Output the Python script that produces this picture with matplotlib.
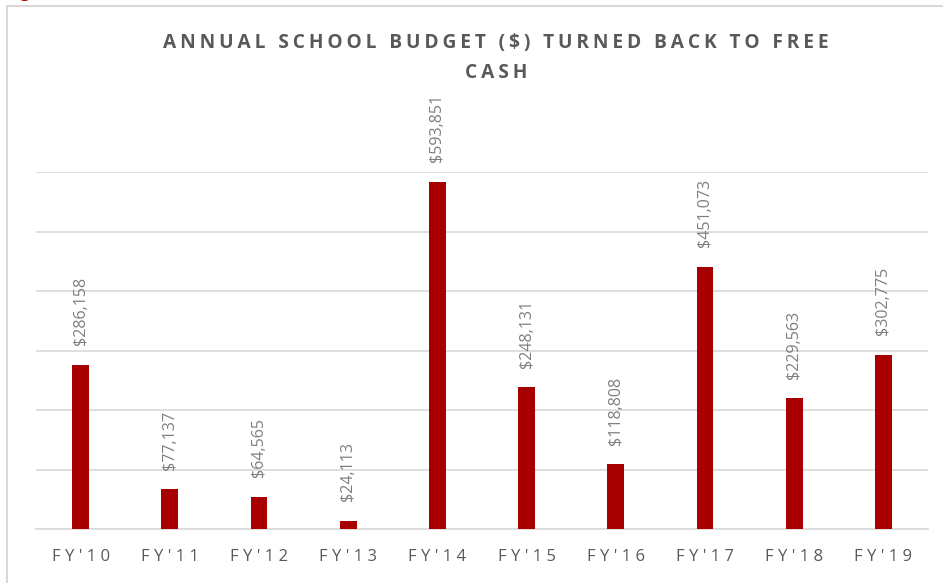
import matplotlib
matplotlib.use("Agg")
import matplotlib.pyplot as plt
from matplotlib.patches import Rectangle

years = ["FY'10", "FY'11", "FY'12", "FY'13", "FY'14",
         "FY'15", "FY'16", "FY'17", "FY'18", "FY'19"]
amounts = [286158, 77137, 64565, 24113, 593851,
           248131, 118808, 451073, 229563, 302775]
title = "ANNUAL SCHOOL BUDGET ($) TURNED BACK TO FREE\nCASH"

plt.rcParams['font.family'] = ['Open Sans', 'DejaVu Sans']

def spaced(s, sep='\u200a'):
    # fake letter spacing
    return '\n'.join(sep.join(line) for line in s.split('\n'))

fig = plt.figure(figsize=(9.43, 5.83), dpi=100)
W, H = 943, 583
# outer chart border (cropped screenshot)
fig.patches.append(Rectangle((7 / W, -0.05), 1.0, 1 - 6 / H + 0.05,
                             transform=fig.transFigure, fill=False,
                             edgecolor='#d9d9d9', linewidth=1.5))
# descender of the document heading, cut off at the top
fig.text(6 / W, 1 + 3 / H, "Figure 4",
         va='baseline', ha='left', color='#c00000', fontsize=12, fontweight='bold')

ax = fig.add_axes([36 / W, 1 - 529 / H, (928 - 36) / W, (529 - 172) / H])
x = range(len(years))
ax.bar(x, amounts, width=0.19, color='#a80000', zorder=3)
ax.set_ylim(10000, 610000)
ax.set_xlim(-0.5, len(years) - 0.5)
ax.set_yticks(range(10000, 610001, 100000))
ax.yaxis.grid(True, color='#d9d9d9', linewidth=1.2)
ax.tick_params(left=False, labelleft=False, bottom=False)
for s in ['top', 'right', 'left']:
    ax.spines[s].set_visible(False)
ax.spines['bottom'].set_color('#d9d9d9')
ax.spines['bottom'].set_linewidth(1.2)
ax.set_xticks(list(x))
ax.set_xticklabels([spaced(y, '\u2009\u200a') for y in years], color='#595959', fontsize=12)
ax.tick_params(axis='x', pad=11)

for i, v in enumerate(amounts):
    ax.annotate("${:,}".format(v), (i, v), xytext=(0, 14), textcoords='offset points',
                rotation=90, ha='center', va='bottom', color='#7f7f7f',
                fontsize=11.5, annotation_clip=False)

fig.text(496 / W, 1 - 58 / H, spaced(title, '\u2009'), ha='center', va='center',
         fontsize=13.8, fontweight='bold', color='#595959', linespacing=1.65)

fig.savefig("out.png", dpi=100)
